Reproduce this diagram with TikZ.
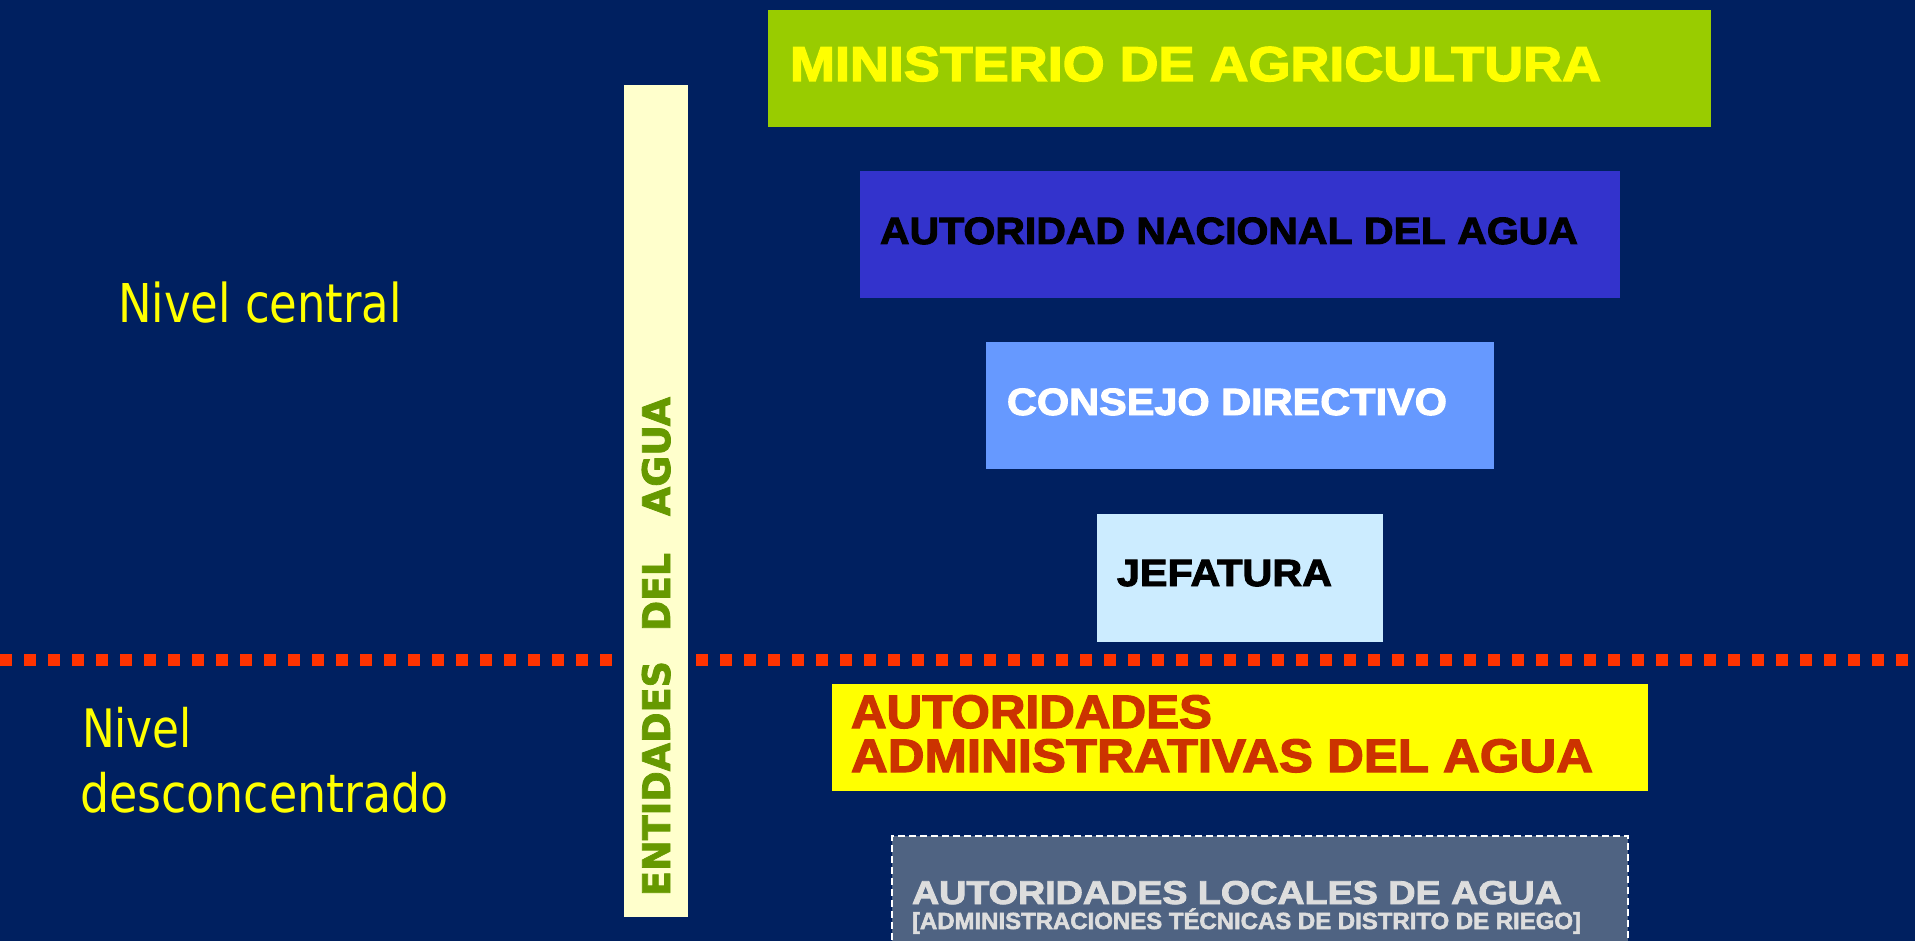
\documentclass[tikz,border=0pt]{standalone}
\usepackage{fontspec}
\setmainfont{Liberation Sans}[BoldFeatures={FakeBold=2.5}]
\newfontfamily\verd{DejaVu Sans}[BoldFeatures={FakeBold=2}]
\usepackage{graphicx}
\definecolor{bgnavy}{HTML}{002060}
\definecolor{minfill}{HTML}{99CC00}
\definecolor{minyellow}{HTML}{FFFF00}
\definecolor{anafill}{HTML}{3333CC}
\definecolor{cdfill}{HTML}{6699FF}
\definecolor{jeffill}{HTML}{CCECFF}
\definecolor{aaafill}{HTML}{FFFF00}
\definecolor{aaatext}{HTML}{CC3300}
\definecolor{alafill}{HTML}{4F6382}
\definecolor{alatext}{HTML}{DDDDDD}
\definecolor{barfill}{HTML}{FFFFCC}
\definecolor{bartext}{HTML}{669900}
\definecolor{dotred}{HTML}{FF3300}
\newcommand\fitw[2]{\resizebox{#1pt}{\height}{#2}}
\newcommand\fs[1]{\fontsize{#1}{#1}\selectfont}
\tikzset{
  txt/.style={inner sep=0pt, outer sep=0pt, anchor=base west},
  panel/.style={inner sep=0pt, outer sep=0pt, anchor=north west, draw=none},
  vtxt/.style={txt, rotate=90, text=bartext},
  dotline/.style={draw=dotred, line width=12pt, dash pattern=on 12pt off 12pt},
}
\begin{document}
\begin{tikzpicture}[x=1pt,y=-1pt]
\useasboundingbox (0,0) rectangle (1915,941);
\fill[bgnavy] (0,0) rectangle (1915,941);
% dotted separator
\coordinate (dl) at (0,660);
\coordinate (dr) at (1915,660);
\draw[dotline] (dl) -- (dr);
% boxes
\node[panel, fill=minfill, minimum width=943pt, minimum height=117pt] (minbox) at (768,10) {};
\node[txt, text=minyellow] (mintext) at (790,81) {\fitw{811}{\fs{49}\bfseries MINISTERIO DE AGRICULTURA}};
\node[panel, fill=anafill, minimum width=760pt, minimum height=127pt] (anabox) at (860,171) {};
\node[txt, text=black] (anatext) at (880,244) {\fitw{698}{\fs{38}\bfseries AUTORIDAD NACIONAL DEL AGUA}};
\node[panel, fill=cdfill, minimum width=508pt, minimum height=127pt] (cdbox) at (986,342) {};
\node[txt, text=white] (cdtext) at (1007,415) {\fitw{440}{\fs{38}\bfseries CONSEJO DIRECTIVO}};
\node[panel, fill=jeffill, minimum width=286pt, minimum height=128pt] (jefbox) at (1097,514) {};
\node[txt, text=black] (jeftext) at (1117,586) {\fitw{215}{\fs{38}\bfseries JEFATURA}};
\node[panel, fill=aaafill, minimum width=816pt, minimum height=107pt] (aaabox) at (832,684) {};
\node[txt, text=aaatext] (aaatext1) at (851,728) {\fitw{361}{\fs{47}\bfseries AUTORIDADES}};
\node[txt, text=aaatext] (aaatext2) at (851,772) {\fitw{742}{\fs{47}\bfseries ADMINISTRATIVAS DEL AGUA}};
\node[panel, fill=alafill, draw=white, line width=2pt, dash pattern=on 7pt off 4pt, minimum width=736pt, minimum height=125pt] (alabox) at (892,836) {};
\node[txt, text=alatext] (alatext1) at (912,904) {\fitw{650}{\fs{33}\bfseries AUTORIDADES LOCALES DE AGUA}};
\node[txt, text=alatext] (alatext2) at (912,929) {\fitw{669}{\fs{23.3}\bfseries [ADMINISTRACIONES TÉCNICAS DE DISTRITO DE RIEGO]}};
% vertical bar
\node[panel, fill=barfill, minimum width=64pt, minimum height=832pt] (bar) at (624,85) {};
\node[vtxt] (ent) at (670,896) {\fitw{235}{\verd\fs{38}\bfseries ENTIDADES}};
\node[vtxt] (del) at (670,631) {\fitw{78}{\verd\fs{38}\bfseries DEL}};
\node[vtxt] (agua) at (670,516) {\fitw{119}{\verd\fs{38}\bfseries AGUA}};
% level labels
\node[txt, text=minyellow] (ncentral) at (118,323) {\fitw{284}{\verd\fs{53.5}Nivel central}};
\node[txt, text=minyellow] (ndesc1) at (82,747.5) {\fitw{110}{\verd\fs{53}Nivel}};
\node[txt, text=minyellow] (ndesc2) at (80,812) {\fitw{369}{\verd\fs{53}desconcentrado}};
\end{tikzpicture}
\end{document}
